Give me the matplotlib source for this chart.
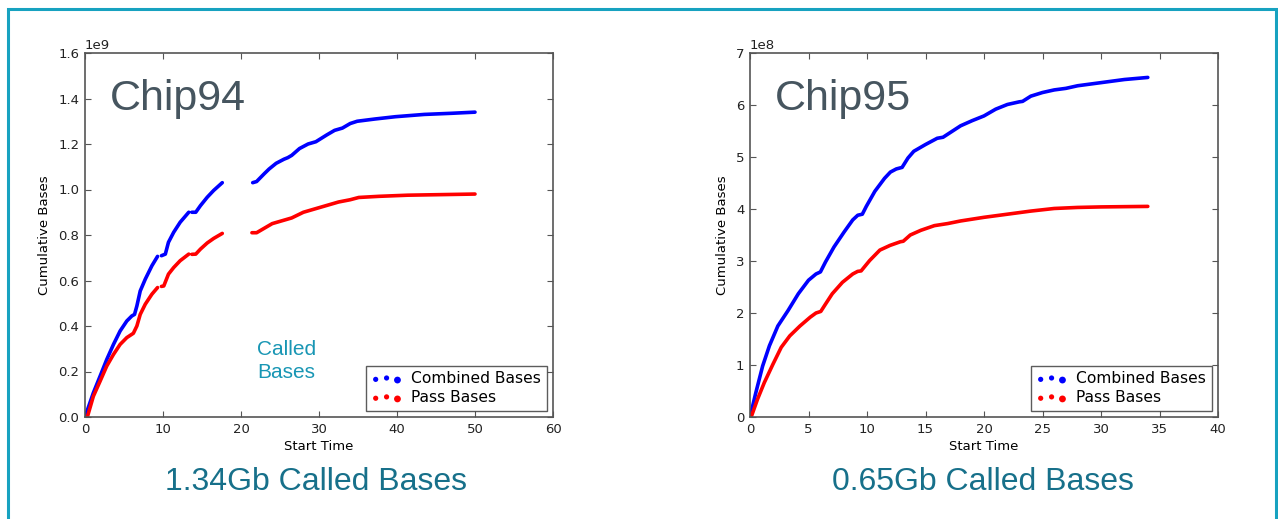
import numpy as np
import matplotlib
matplotlib.use("Agg")
import matplotlib.pyplot as plt
from matplotlib.patches import Rectangle
from matplotlib.collections import PathCollection
from matplotlib.legend_handler import HandlerPathCollection

# Chip94 (time, bases in units of 1e9); None = gap in the data
t94_comb = [0, 1.07, 1.93, 2.79, 3.65, 4.5, 5.36, 6.0, 6.35, 6.65, 7.08, 7.73, 8.58, 9.3, None,
            9.8, 10.3, 10.7, 11.37, 12.2, 13.3, None,
            13.7, 14.2, 14.8, 15.67, 16.5, 17.6, None,
            21.5, 22.0, 23.0, 23.6, 24.5, 25.5, 26.0, 26.5, 27.5, 28.6, 29.6, 31.0, 32.0, 33.0,
            34.0, 34.9, 37.2, 39.8, 43.5, 47.0, 50.0]
b94_comb = [0, 0.106, 0.179, 0.253, 0.319, 0.378, 0.422, 0.444, 0.451, 0.488, 0.554, 0.606,
            0.665, 0.706, None,
            0.709, 0.716, 0.768, 0.812, 0.856, 0.9, None,
            0.9, 0.9, 0.929, 0.966, 0.996, 1.03, None,
            1.03, 1.035, 1.07, 1.09, 1.115, 1.133, 1.14, 1.15, 1.18, 1.2, 1.21, 1.24, 1.26, 1.27,
            1.29, 1.3, 1.31, 1.32, 1.33, 1.335, 1.34]
t94_pass = [0.3, 1.07, 1.93, 2.79, 3.65, 4.5, 5.36, 6.2, 6.65, 7.08, 7.73, 8.58, 9.3, None,
            9.8, 10.1, 10.7, 11.37, 12.2, 13.3, None,
            13.7, 14.2, 14.8, 15.67, 16.5, 17.6, None,
            21.4, 22.0, 23.0, 24.0, 26.0, 26.5, 28.0, 30.0, 31.0, 32.5, 34.0, 35.1, 37.7,
            41.4, 46.6, 50.0]
b94_pass = [0, 0.091, 0.157, 0.224, 0.275, 0.319, 0.349, 0.368, 0.4, 0.451, 0.496, 0.54,
            0.569, None,
            0.574, 0.576, 0.628, 0.657, 0.687, 0.716, None,
            0.715, 0.716, 0.738, 0.765, 0.785, 0.807, None,
            0.81, 0.81, 0.83, 0.85, 0.87, 0.875, 0.9, 0.92, 0.93, 0.945, 0.955, 0.965, 0.97,
            0.975, 0.978, 0.98]

# Chip95 (time, bases in units of 1e8)
t95_comb = [0, 0.49, 1.08, 1.66, 2.38, 3.26, 4.13, 5.0, 5.64, 6.02, 6.45, 7.18, 8.05, 8.78,
            9.21, 9.6, 9.94, 10.67, 11.5, 12.0, 12.5, 13.0, 13.5, 14.0, 15.0, 16.0, 16.5, 18.0,
            19.0, 20.0, 21.0, 22.0, 23.0, 23.3, 24.0, 25.0, 26.0, 27.0, 28.0, 30.0, 32.0, 34.0]
b95_comb = [0, 0.46, 0.98, 1.37, 1.75, 2.05, 2.37, 2.63, 2.75, 2.79, 2.98, 3.27, 3.56, 3.79,
            3.88, 3.9, 4.05, 4.34, 4.59, 4.71, 4.77, 4.8, 4.98, 5.11, 5.24, 5.36, 5.38, 5.6,
            5.7, 5.79, 5.92, 6.01, 6.06, 6.07, 6.17, 6.24, 6.29, 6.32, 6.37, 6.43, 6.49, 6.53]
t95_pass = [0.1, 0.64, 1.22, 1.95, 2.67, 3.4, 4.27, 5.15, 5.64, 6.05, 6.45, 7.03, 7.9, 8.78,
            9.2, 9.5, 10.23, 11.1, 11.97, 12.85, 13.1, 13.7, 14.6, 15.76, 16.9, 18.0, 20.0,
            22.0, 24.0, 26.0, 28.0, 30.0, 34.0]
b95_pass = [0, 0.34, 0.66, 1.01, 1.34, 1.56, 1.75, 1.92, 2.0, 2.03, 2.17, 2.37, 2.59, 2.75,
            2.8, 2.81, 3.01, 3.21, 3.3, 3.37, 3.38, 3.5, 3.59, 3.68, 3.72, 3.77, 3.84,
            3.9, 3.96, 4.01, 4.03, 4.04, 4.05]

totals = ["1.34Gb Called Bases", "0.65Gb Called Bases"]
chips = ["Chip94", "Chip95"]


def arr(v, scale=1.0):
    return np.array([np.nan if x is None else x * scale for x in v], dtype=float)


plt.rcParams['font.family'] = 'DejaVu Sans'
plt.rcParams['xtick.direction'] = 'in'
plt.rcParams['ytick.direction'] = 'in'
plt.rcParams['xtick.top'] = True
plt.rcParams['ytick.right'] = True
plt.rcParams['xtick.major.size'] = 4
plt.rcParams['ytick.major.size'] = 4
plt.rcParams['axes.edgecolor'] = '#555555'
plt.rcParams['xtick.color'] = '#555555'
plt.rcParams['ytick.color'] = '#555555'
plt.rcParams['xtick.labelcolor'] = '#222222'
plt.rcParams['ytick.labelcolor'] = '#222222'

fig = plt.figure(figsize=(12.78, 5.19), dpi=100)
W, H = 1278.0, 519.0

# slide frame
fig.patches.append(Rectangle((8 / W, -0.05), (1276 - 8) / W, 1.05 - 9 / H,
                             transform=fig.transFigure, fill=False,
                             edgecolor='#17a2c0', linewidth=2.2))

ax1 = fig.add_axes([85 / W, 102 / H, 468 / W, 364 / H])
ax2 = fig.add_axes([750 / W, 102 / H, 468 / W, 364 / H])

kw = dict(lw=2.6, solid_capstyle='round', solid_joinstyle='round')
ax1.plot(arr(t94_comb), arr(b94_comb, 1e9), color='b', **kw)
ax1.plot(arr(t94_pass), arr(b94_pass, 1e9), color='r', **kw)
ax2.plot(arr(t95_comb), arr(b95_comb, 1e8), color='b', **kw)
ax2.plot(arr(t95_pass), arr(b95_pass, 1e8), color='r', **kw)

ax1.set_xlim(0, 60)
ax1.set_ylim(0, 1.6e9)
ax1.set_xticks(np.arange(0, 61, 10))
ax1.set_yticks(np.arange(0, 1.61e9, 0.2e9))
ax2.set_xlim(0, 40)
ax2.set_ylim(0, 7e8)
ax2.set_xticks(np.arange(0, 41, 5))
ax2.set_yticks(np.arange(0, 7.1e8, 1e8))

for ax in (ax1, ax2):
    # empty scatter handles only for the legend (three dots each)
    ax.scatter([], [], c='b', s=14, edgecolors='none', label='Combined Bases')
    ax.scatter([], [], c='r', s=14, edgecolors='none', label='Pass Bases')
    ax.tick_params(labelsize=9.5, pad=4)
    ax.yaxis.get_offset_text().set_fontsize(9.5)
    ax.set_xlabel("Start Time", fontsize=9.5, labelpad=3)
    ax.set_ylabel("Cumulative Bases", fontsize=9.5, labelpad=5)
    leg = ax.legend(loc='lower right', scatterpoints=3, fontsize=11.2,
                    fancybox=False, borderaxespad=0.4, handletextpad=0.6,
                    borderpad=0.35, labelspacing=0.25, handlelength=2.0,
                    handler_map={PathCollection: HandlerPathCollection(sizes=[14, 14, 24])})
    leg.get_frame().set_edgecolor('#333333')
    leg.get_frame().set_linewidth(1.0)
    for s in ax.spines.values():
        s.set_linewidth(1.2)

# big slide labels
fig.text(110 / W, 1 - 110 / H, chips[0], fontsize=31, color='#46555f',
         family='Liberation Sans', va='baseline', ha='left')
fig.text(775 / W, 1 - 110 / H, chips[1], fontsize=31, color='#46555f',
         family='Liberation Sans', va='baseline', ha='left')
fig.text(257 / W, 1 - 355 / H, "Called", fontsize=15, color='#1896b4',
         family='Liberation Sans', va='baseline', ha='left')
fig.text(257 / W, 1 - 378 / H, "Bases", fontsize=15, color='#1896b4',
         family='Liberation Sans', va='baseline', ha='left')
fig.text(316 / W, 1 - 490 / H, totals[0], fontsize=23, color='#17708a',
         family='Liberation Sans', va='baseline', ha='center')
fig.text(983 / W, 1 - 490 / H, totals[1], fontsize=23, color='#17708a',
         family='Liberation Sans', va='baseline', ha='center')

fig.savefig("out.png", dpi=100, facecolor='white')
